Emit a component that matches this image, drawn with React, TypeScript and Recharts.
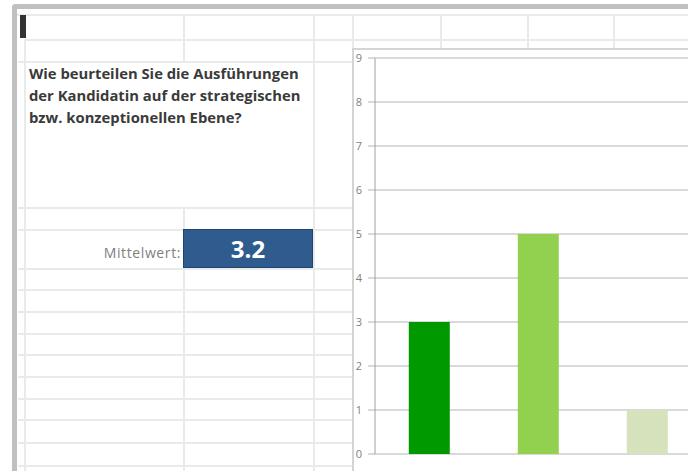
import React from "react";
import { BarChart, Bar, XAxis, YAxis, CartesianGrid, Cell } from "recharts";

// ---- data ----
const categories = ["sehr gut", "gut", "genügend", "ungenügend"];
const counts = [3, 5, 1, 0];
const yTicks = [0, 1, 2, 3, 4, 5, 6, 7, 8, 9];
const boundaryTicks = [0, 1, 2, 3, 4];
const questionLines = [
  "Wie beurteilen Sie die Ausführungen",
  "der Kandidatin auf der strategischen",
  "bzw. konzeptionellen Ebene?",
];
const meanLabel = "Mittelwert:";
const meanValue = 3.2;

// ---- styles ----
const barColors = ["#009a00", "#92d050", "#d5e2bb", "#c4d79b"];
const cellLine = "#e8ebed";
const font = "'Open Sans', 'Liberation Sans', sans-serif";

const data = categories.map((c, i) => ({ category: c, count: counts[i], idx: i + 0.5 }));

const hLines: Array<[number, number, number]> = [
  // y, x1, x2
  [14, 17, 688],
  [39, 24, 688],
  [61, 18, 352],
  [207, 18, 352],
  [229, 18, 352],
  [268, 18, 352],
  [289, 18, 352],
  [311, 18, 352],
  [333, 18, 352],
  [354, 18, 352],
  [376, 18, 352],
  [398, 18, 352],
  [419, 18, 352],
  [442, 18, 352],
  [465, 18, 352],
];
const vLines: Array<[number, number, number]> = [
  // x, y1, y2
  [24, 39, 471],
  [183, 14, 61],
  [183, 207, 471],
  [313, 14, 471],
  [352, 14, 48],
  [440, 14, 48],
  [527, 14, 48],
  [613, 14, 48],
];

export default function App() {
  return (
    <div
      style={{
        position: "fixed",
        left: 0,
        top: 0,
        width: 688,
        height: 471,
        overflow: "hidden",
        background: "#ffffff",
        fontFamily: font,
      }}
    >
      {hLines.map(([y, x1, x2], i) => (
        <div key={"h" + i} style={{ position: "absolute", left: x1, top: y, width: x2 - x1, height: 2, background: cellLine }} />
      ))}
      {vLines.map(([x, y1, y2], i) => (
        <div key={"v" + i} style={{ position: "absolute", left: x, top: y1, width: 2, height: y2 - y1, background: cellLine }} />
      ))}
      {/* window frame */}
      <div style={{ position: "absolute", left: 12, top: 4, width: 700, height: 5, background: "#c0c0c0", borderTopLeftRadius: 4 }} />
      <div style={{ position: "absolute", left: 12, top: 4, width: 5, height: 480, background: "#c0c0c0", borderTopLeftRadius: 4 }} />
      {/* cursor */}
      <div style={{ position: "absolute", left: 20, top: 15, width: 6, height: 23, background: "#333333" }} />

      {/* question */}
      {questionLines.map((t, i) => (
        <div
          key={"q" + i}
          style={{
            position: "absolute",
            left: 29,
            top: 62 + i * 22,
            fontSize: 14.8,
            fontWeight: 700,
            color: "#3a3a3a",
            whiteSpace: "nowrap",
            lineHeight: "22px",
          }}
        >
          {t}
        </div>
      ))}

      {/* mean */}
      <div
        style={{
          position: "absolute",
          right: 688 - 181,
          top: 243,
          fontSize: 14,
          letterSpacing: 0.6,
          color: "#808080",
          whiteSpace: "nowrap",
          lineHeight: "20px",
        }}
      >
        {meanLabel}
      </div>
      <div
        style={{
          position: "absolute",
          left: 183,
          top: 229,
          width: 130,
          height: 39,
          boxSizing: "border-box",
          background: "#2f5b8e",
          border: "1px solid #1f4470",
          color: "#ffffff",
          fontWeight: 700,
          fontSize: 24,
          display: "flex",
          alignItems: "center",
          justifyContent: "center",
        }}
      >
        {meanValue.toFixed(1)}
      </div>

      {/* chart */}
      <div
        style={{
          position: "absolute",
          left: 352,
          top: 48,
          width: 470,
          height: 440,
          background: "#ffffff",
          borderLeft: "2px solid #d4d4d4",
          borderTop: "2px solid #d4d4d4",
        }}
      >
        <BarChart
          width={467}
          height={434}
          data={data}
          margin={{ top: 8, right: 10, bottom: 0, left: -2 }}
          barCategoryGap="31%"
        >
          <CartesianGrid
            xAxisId="cat"
            horizontal={true}
            vertical={false}
            stroke="#b4b4b4"
            strokeWidth={1.2}
          />
          <XAxis xAxisId="cat" dataKey="category" hide />
          <XAxis
            xAxisId="edges"
            type="number"
            dataKey="idx"
            domain={[0, categories.length]}
            allowDataOverflow
            ticks={boundaryTicks}
            interval={0}
            tick={false}
            tickSize={6}
            tickLine={{ stroke: "#a6a6a6" }}
            axisLine={{ stroke: "#a6a6a6" }}
            height={30}
          />
          <YAxis
            domain={[0, 9]}
            ticks={yTicks}
            interval={0}
            width={23}
            tickSize={7}
            tickMargin={6}
            axisLine={{ stroke: "#a0a0a0" }}
            tickLine={{ stroke: "#b4b4b4" }}
            tick={{ fill: "#7f7f7f", fontSize: 11, fontFamily: font }}
          />
          <Bar xAxisId="cat" dataKey="count" isAnimationActive={false}>
            {data.map((d, i) => (
              <Cell key={d.category} fill={barColors[i]} />
            ))}
          </Bar>
        </BarChart>
      </div>
    </div>
  );
}
